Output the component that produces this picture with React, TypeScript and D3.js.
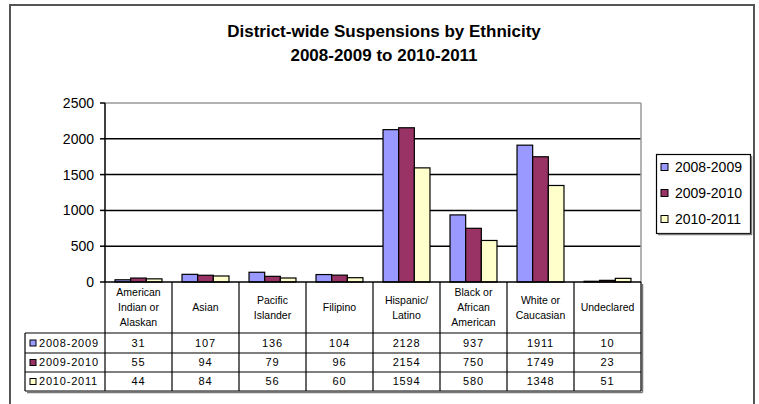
import React from "react";
import * as d3 from "d3";

const categories = [
  ["American", "Indian or", "Alaskan"],
  ["Asian"],
  ["Pacific", "Islander"],
  ["Filipino"],
  ["Hispanic/", "Latino"],
  ["Black or", "African", "American"],
  ["White or", "Caucasian"],
  ["Undeclared"],
];
const seriesNames = ["2008-2009", "2009-2010", "2010-2011"];
const s2008 = [31, 107, 136, 104, 2128, 937, 1911, 10];
const s2009 = [55, 94, 79, 96, 2154, 750, 1749, 23];
const s2010 = [44, 84, 56, 60, 1594, 580, 1348, 51];
const yTicks = [0, 500, 1000, 1500, 2000, 2500];
const colors = ["#9999FF", "#993366", "#FFFFCC"];

const W = 759;
const H = 404;
const FONT = "'Liberation Sans', Arial, sans-serif";

export default function App() {
  const series = [s2008, s2009, s2010];
  const catKeys = categories.map((c) => c.join(" "));
  const x = d3.scaleBand<string>().domain(catKeys).range([105, 641]).padding(0);
  const xs = d3
    .scaleBand<string>()
    .domain(seriesNames)
    .range([0, x.bandwidth()])
    .paddingInner(0)
    .paddingOuter(0.64);
  const y = d3.scaleLinear().domain([0, 2500]).range([282, 103]);

  const tableLeft = 25;
  const tableRight = 641;
  const headerBottom = 333;
  const rowYs = [333, 353, 372, 391];

  return (
    <svg
      width={W}
      height={H}
      style={{ position: "absolute", left: 0, top: 0, display: "block" }}
      fontFamily={FONT}
    >
      <rect x={0} y={0} width={W} height={H} fill="#fff" />
      {/* outer border */}
      <rect x={10} y={5} width={744} height={420} fill="none" stroke="#555" strokeWidth={2} />

      {/* title */}
      <text x={384} y={37} textAnchor="middle" fontSize={17} fontWeight="bold" fill="#000">
        District-wide Suspensions by Ethnicity
      </text>
      <text x={384} y={61} textAnchor="middle" fontSize={17} fontWeight="bold" fill="#000">
        2008-2009 to 2010-2011
      </text>

      {/* gridlines */}
      {yTicks.map((t) => (
        <g key={t}>
          {t > 0 && t < 2500 && (
            <line x1={105} x2={641} y1={y(t)} y2={y(t)} stroke="#000" strokeWidth={1.5} />
          )}
          <line x1={100} x2={105} y1={y(t)} y2={y(t)} stroke="#000" strokeWidth={1.5} />
          <text x={94} y={y(t)} dy="0.35em" textAnchor="end" fontSize={14} fill="#000">
            {t}
          </text>
        </g>
      ))}
      {/* plot border top/right */}
      <line x1={105} x2={641} y1={y(2500)} y2={y(2500)} stroke="#999" strokeWidth={1.5} />
      <line x1={641} x2={641} y1={y(2500)} y2={y(0)} stroke="#999" strokeWidth={1.5} />

      {/* bars */}
      {series.map((vals, si) =>
        vals.map((v, ci) => (
          <rect
            key={`${si}-${ci}`}
            x={(x(catKeys[ci]) as number) + (xs(seriesNames[si]) as number)}
            y={y(v)}
            width={xs.bandwidth()}
            height={y(0) - y(v)}
            fill={colors[si]}
            stroke="#000"
            strokeWidth={1.2}
          />
        ))
      )}

      {/* axis */}
      <line x1={105} x2={105} y1={y(2500)} y2={y(0)} stroke="#000" strokeWidth={1.5} />
      <line x1={105} x2={tableRight} y1={y(0)} y2={y(0)} stroke="#000" strokeWidth={1.5} />

      {/* table shadow */}
      <line x1={tableRight + 1.5} x2={tableRight + 1.5} y1={y(0) + 2} y2={rowYs[3] + 1.5} stroke="#777" strokeWidth={1.5} />
      <line x1={tableLeft + 2} x2={tableRight + 1.5} y1={rowYs[3] + 1.5} y2={rowYs[3] + 1.5} stroke="#777" strokeWidth={1.5} />

      {/* table grid */}
      {catKeys.map((k) => (
        <line key={k} x1={x(k) as number} x2={x(k) as number} y1={y(0)} y2={rowYs[3]} stroke="#000" strokeWidth={1.2} />
      ))}
      <line x1={tableRight} x2={tableRight} y1={y(0)} y2={rowYs[3]} stroke="#000" strokeWidth={1.2} />
      <line x1={tableLeft} x2={tableLeft} y1={headerBottom} y2={rowYs[3]} stroke="#000" strokeWidth={1.2} />
      {rowYs.map((ry) => (
        <line key={ry} x1={tableLeft} x2={tableRight} y1={ry} y2={ry} stroke="#000" strokeWidth={1.2} />
      ))}

      {/* header labels */}
      {categories.map((lines, ci) => {
        const cx = (x(catKeys[ci]) as number) + x.bandwidth() / 2;
        const cy = (y(0) + headerBottom) / 2;
        const lh = 15;
        const start = cy - ((lines.length - 1) * lh) / 2;
        return (
          <g key={ci}>
            {lines.map((ln, li) => (
              <text
                key={li}
                x={cx}
                y={start + li * lh}
                dy="0.35em"
                textAnchor="middle"
                fontSize={10.5}
                fill="#000"
              >
                {ln}
              </text>
            ))}
          </g>
        );
      })}

      {/* rows */}
      {series.map((vals, si) => {
        const cy = (rowYs[si] + rowYs[si + 1]) / 2;
        return (
          <g key={si}>
            <rect x={30} y={cy - 3} width={6} height={6} fill={colors[si]} stroke="#000" strokeWidth={1} />
            <text x={39} y={cy} dy="0.35em" fontSize={11} letterSpacing={0.8} fill="#000">
              {seriesNames[si]}
            </text>
            {vals.map((v, ci) => (
              <text
                key={ci}
                x={(x(catKeys[ci]) as number) + x.bandwidth() / 2}
                y={cy}
                dy="0.35em"
                textAnchor="middle"
                fontSize={11}
                letterSpacing={0.8}
                fill="#000"
              >
                {v}
              </text>
            ))}
          </g>
        );
      })}

      {/* legend */}
      <rect x={656.5} y={154.5} width={94} height={79} fill="#fff" stroke="#000" strokeWidth={1.2} />
      <line x1={751.5} x2={751.5} y1={156} y2={235} stroke="#777" strokeWidth={1.5} />
      <line x1={658} x2={751.5} y1={234.5} y2={234.5} stroke="#777" strokeWidth={1.5} />
      {seriesNames.map((n, si) => {
        const cy = 167 + si * 26;
        return (
          <g key={n}>
            <rect x={661} y={cy - 3.5} width={7} height={7} fill={colors[si]} stroke="#000" strokeWidth={1} />
            <text x={675} y={cy} dy="0.35em" fontSize={14} fill="#000">
              {n}
            </text>
          </g>
        );
      })}
    </svg>
  );
}
